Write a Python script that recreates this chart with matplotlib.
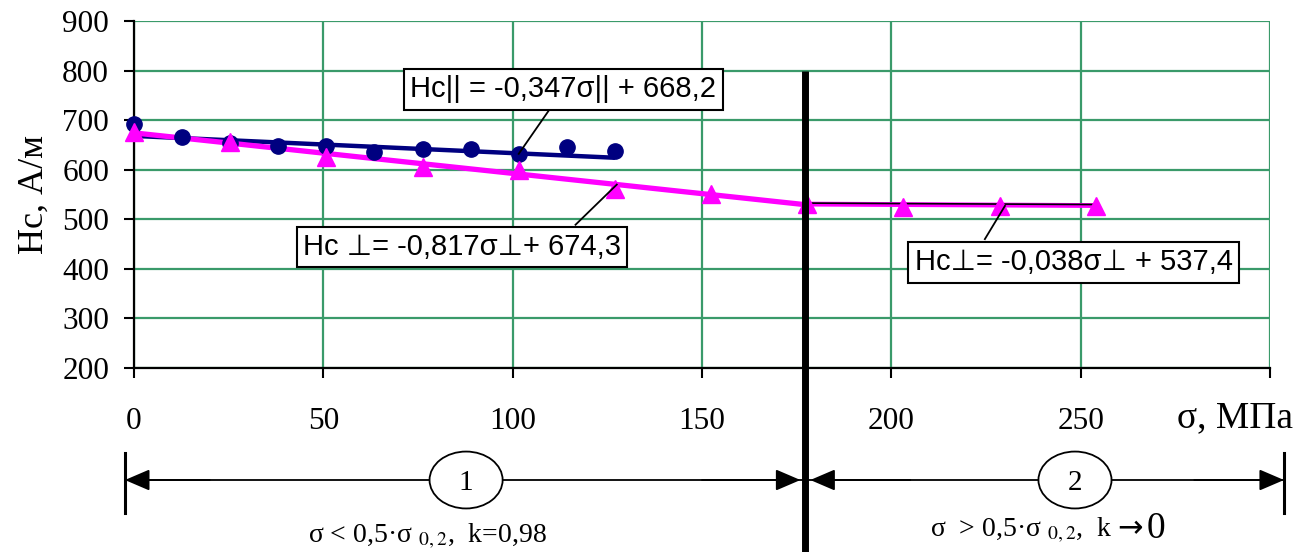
import numpy as np
import matplotlib
matplotlib.use("Agg")
import matplotlib.pyplot as plt
from matplotlib.patches import Ellipse
from matplotlib.transforms import blended_transform_factory

plt.rcParams['mathtext.fontset'] = 'stix'

# --- data ---
par_x = [0, 12.7, 25.4, 38.1, 50.8, 63.5, 76.2, 88.9, 101.6, 114.3, 127]
par_y = [692, 666, 654, 648, 648, 636, 642, 641, 631, 645, 637]

perp_x = [0, 25.4, 50.8, 76.2, 101.6, 127, 152.4, 177.8, 203.2, 228.6, 254]
perp_y = [676, 656, 626, 605, 599, 561, 552, 530, 524, 526, 527]

# trend lines: (slope, intercept, x start, x end)
trend_par = (-0.347, 668.2, 0, 127)
trend_perp1 = (-0.817, 674.3, 0, 177.8)
trend_perp2 = (-0.038, 537.4, 177.8, 254)

eq_labels = ["Hc|| = -0,347σ|| + 668,2",
             "Hc ⊥= -0,817σ⊥+ 674,3",
             "Hc⊥= -0,038σ⊥ + 537,4"]

xticks = [0, 50, 100, 150, 200, 250, 300]
xtick_labels = ["0", "50", "100", "150", "200", "250", ""]
yticks = [200, 300, 400, 500, 600, 700, 800, 900]

sigma_split = 177.3

serif = ['Liberation Serif', 'DejaVu Serif']
sans = ['Liberation Sans', 'DejaVu Sans']
green = '#3a9a6a'

fig = plt.figure(figsize=(13.02, 5.52), dpi=100)
ax = fig.add_axes([134 / 1302, 1 - 368 / 552, (1270 - 134) / 1302, (368 - 21) / 552])

ax.set_xlim(0, 300)
ax.set_ylim(200, 900)
ax.set_xticks(xticks)
ax.set_xticklabels(xtick_labels, fontfamily=serif, fontsize=22.5)
ax.set_yticks(yticks)
ax.set_yticklabels([str(v) for v in yticks], fontfamily=serif, fontsize=22.5)
ax.tick_params(axis='x', direction='out', length=7, width=1.5, pad=21)
ax.tick_params(axis='y', direction='out', length=7, width=1.5, pad=11)
ax.grid(True, color=green, lw=1.6)
ax.set_axisbelow(True)
for s in ['top', 'right']:
    ax.spines[s].set_visible(False)
for s in ['left', 'bottom']:
    ax.spines[s].set_linewidth(1.6)
    ax.spines[s].set_zorder(3)

ax.set_ylabel("Нс, А/м", fontfamily=serif, fontsize=26, labelpad=8)

# trend lines
def tline(t):
    k, b, x0, x1 = t
    return [x0, x1], [k * x0 + b, k * x1 + b]

xs, ys = tline(trend_par)
ax.plot(xs, ys, color='#000080', lw=3.2, zorder=4, solid_capstyle='butt')
xs, ys = tline(trend_perp1)
ax.plot(xs, ys, color='#ff00ff', lw=3.8, zorder=4, solid_capstyle='butt')
xs, ys = tline(trend_perp2)
ax.plot(xs, ys, color='#ff00ff', lw=3.5, zorder=4, solid_capstyle='butt')
ax.plot(xs, [v + 2 for v in ys], color='black', lw=1.2, zorder=4.5)

# points
ax.plot(par_x, par_y, 'o', color='#000080', ms=11, zorder=5, clip_on=False)
ax.plot(perp_x, perp_y, '^', color='#ff00ff', ms=13.5, zorder=6, clip_on=False)

# equation boxes and leaders
box_kw = dict(boxstyle='square,pad=0.22', fc='white', ec='black', lw=1.5)
ax.text(113.4, 762, eq_labels[0], fontfamily=sans, fontsize=21, ha='center', va='center',
        bbox=box_kw, zorder=8)
ax.plot([111.5, 101.6], [741, 632], color='black', lw=1.3, zorder=7)
ax.text(86.6, 444, eq_labels[1], fontfamily=sans, fontsize=21, ha='center', va='center',
        bbox=box_kw, zorder=8)
ax.plot([116.6, 127.5], [489, 570], color='black', lw=1.3, zorder=7)
ax.text(248.2, 413, eq_labels[2], fontfamily=sans, fontsize=21, ha='center', va='center',
        bbox=box_kw, zorder=8)
ax.plot([224.7, 230], [460, 527], color='black', lw=1.3, zorder=7)

# x-axis label
trans = blended_transform_factory(ax.transData, ax.transAxes)
ax.text(290.8, -0.144, "σ, МПа", transform=trans, fontfamily=serif, fontsize=27,
        ha='center', va='center', clip_on=False)

# thick boundary line
ax.plot([sigma_split, sigma_split], [(800 - 200) / 700, -0.56], transform=trans,
        color='black', lw=5, zorder=9, clip_on=False, solid_capstyle='butt')

# bottom zone scheme
ya = -0.3228
xl, xr = -2.4, 303.7
ax.plot([xl, xr], [ya, ya], transform=trans, color='black', lw=1.3, clip_on=False)
for xv in [xl, xr]:
    ax.plot([xv, xv], [-0.245, -0.418], transform=trans, color='black', lw=2.2, clip_on=False)
arr = dict(arrowstyle='-|>,head_length=0.7,head_width=0.3', color='black', lw=1.3,
           mutation_scale=22, shrinkA=0, shrinkB=0)
for tip, tail in [(xl, 20), (sigma_split - 1.3, 150), (sigma_split + 1.3, 205), (xr, 280)]:
    ax.annotate('', xy=(tip, ya), xytext=(tail, ya), xycoords=trans, textcoords=trans,
                arrowprops=arr, annotation_clip=False)

for cx, num in [(87.7, "1"), (248.5, "2")]:
    ax.add_patch(Ellipse((cx, ya), width=19.3, height=0.164, transform=trans, fc='white',
                         ec='black', lw=1.3, clip_on=False, zorder=6))
    ax.text(cx, ya - 0.01, num, transform=trans, fontfamily=serif, fontsize=21,
            ha='center', va='center', zorder=7, clip_on=False)

ax.text(77.6, -0.485, r"σ < 0,5·σ $_{0,2}$,  k=0,98", transform=trans, fontfamily=serif,
        fontsize=20, ha='center', va='center', clip_on=False)
ax.text(258.5, -0.467, r"σ  > 0,5·σ $_{0,2}$,  k", transform=trans, fontfamily=serif,
        fontsize=20, ha='right', va='center', clip_on=False)
ax.text(263.0, -0.462, "→", transform=trans, fontfamily=['DejaVu Sans'],
        fontsize=22, ha='center', va='center', clip_on=False)
ax.text(267.3, -0.462, "0", transform=trans, fontfamily=serif,
        fontsize=27, ha='left', va='center', clip_on=False)

fig.savefig("out.png", dpi=100)
